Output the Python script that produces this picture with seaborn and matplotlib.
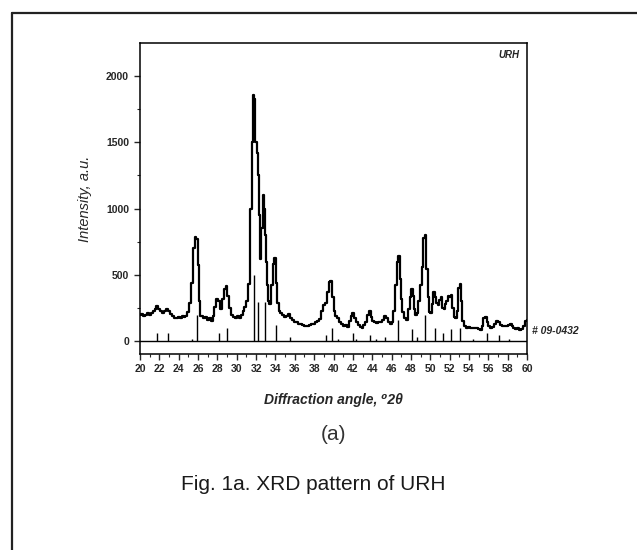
import matplotlib
matplotlib.use("Agg")
import matplotlib.pyplot as plt
import seaborn as sns
import pandas as pd
from matplotlib.ticker import MultipleLocator
from matplotlib.lines import Line2D

two_theta = [20.0, 20.2, 20.4, 20.6, 20.8, 21.0, 21.2, 21.4, 21.6, 21.8, 22.0, 22.2, 22.4, 22.6, 22.8,
             23.0, 23.2, 23.4, 23.6, 23.8, 24.0, 24.2, 24.4, 24.6, 24.8, 25.0, 25.2, 25.4, 25.6, 25.75,
             25.9, 26.0, 26.1, 26.2, 26.4, 26.6, 26.8, 27.0, 27.2, 27.4, 27.6, 27.8, 28.0, 28.2, 28.4,
             28.6, 28.8, 28.9, 29.1, 29.3, 29.5, 29.7, 29.9, 30.1, 30.3, 30.5, 30.7, 30.9, 31.1, 31.3,
             31.5, 31.65, 31.75, 31.85, 32.0, 32.1, 32.25, 32.35, 32.45, 32.6, 32.75, 32.85, 32.95, 33.1, 33.2,
             33.3, 33.45, 33.6, 33.8, 33.95, 34.1, 34.25, 34.4, 34.6, 34.8, 35.0, 35.2, 35.4, 35.6, 35.8,
             36.0, 36.2, 36.4, 36.6, 36.8, 37.0, 37.2, 37.4, 37.6, 37.8, 38.0, 38.2, 38.4, 38.6, 38.8,
             39.0, 39.2, 39.4, 39.6, 39.75, 39.9, 40.1, 40.3, 40.5, 40.7, 40.9, 41.1, 41.3, 41.5, 41.7,
             41.9, 42.0, 42.2, 42.4, 42.6, 42.8, 43.0, 43.2, 43.4, 43.6, 43.75, 43.9, 44.1, 44.3, 44.5,
             44.7, 44.9, 45.1, 45.3, 45.5, 45.7, 45.9, 46.1, 46.3, 46.5, 46.65, 46.75, 46.9, 47.05, 47.2,
             47.4, 47.6, 47.8, 47.95, 48.1, 48.25, 48.4, 48.55, 48.7, 48.85, 49.0, 49.2, 49.35, 49.5, 49.65,
             49.8, 49.95, 50.1, 50.25, 50.4, 50.55, 50.7, 50.85, 51.0, 51.15, 51.3, 51.45, 51.6, 51.75, 51.9,
             52.05, 52.2, 52.35, 52.5, 52.65, 52.8, 52.95, 53.1, 53.25, 53.4, 53.6, 53.8, 54.0, 54.2, 54.4,
             54.6, 54.8, 55.0, 55.2, 55.4, 55.6, 55.75, 55.9, 56.1, 56.3, 56.5, 56.7, 56.9, 57.1, 57.3,
             57.5, 57.7, 57.9, 58.1, 58.3, 58.5, 58.7, 58.9, 59.1, 59.3, 59.5, 59.7, 59.9, 60.0]
intensity = [195, 205, 190, 200, 210, 200, 215, 230, 245, 265, 240, 225, 215, 230, 240,
             225, 205, 190, 175, 170, 180, 175, 185, 180, 190, 220, 290, 440, 700, 785,
             770, 570, 300, 190, 185, 175, 180, 160, 175, 150, 190, 260, 320, 300, 240,
             320, 390, 415, 340, 250, 200, 180, 170, 185, 175, 195, 230, 255, 300, 430,
             1000, 1500, 1860, 1830, 1500, 1420, 1250, 950, 620, 850, 1100, 1000, 800, 600, 420,
             300, 280, 420, 580, 630, 440, 290, 230, 210, 195, 180, 190, 205, 175, 160,
             145, 140, 130, 125, 120, 110, 115, 110, 120, 125, 130, 140, 150, 165, 230,
             270, 290, 370, 445, 450, 330, 230, 190, 175, 140, 130, 115, 120, 105, 150,
             185, 210, 175, 140, 120, 105, 100, 120, 140, 200, 225, 180, 150, 140, 135,
             145, 140, 160, 190, 170, 140, 130, 140, 230, 420, 600, 640, 470, 320, 220,
             170, 155, 240, 330, 390, 340, 240, 195, 210, 300, 420, 560, 780, 800, 540,
             330, 220, 215, 280, 370, 330, 290, 270, 310, 330, 250, 240, 280, 300, 340,
             335, 345, 250, 180, 175, 230, 400, 430, 300, 150, 110, 100, 105, 100, 95,
             100, 95, 90, 85, 110, 170, 180, 140, 110, 100, 105, 130, 150, 140, 120,
             110, 115, 110, 120, 125, 110, 100, 90, 95, 85, 90, 110, 150, 160]

# reference card # 09-0432 stick positions and heights
ref_pos = [21.8, 22.9, 25.4, 25.9, 28.15, 28.95, 31.8, 32.2, 32.9, 34.05, 35.5, 39.2, 39.8,
           40.45, 42.0, 42.3, 43.8, 44.4, 45.3, 46.7, 48.1, 48.6, 49.5, 50.5, 51.3, 52.1,
           53.1, 54.4, 55.9, 57.1, 58.1]
ref_int = [60, 60, 15, 200, 60, 100, 500, 295, 295, 120, 30, 45, 100,
           15, 60, 15, 45, 15, 30, 160, 90, 30, 195, 100, 60, 90,
           100, 15, 60, 45, 15]

df = pd.DataFrame({"two_theta": two_theta, "intensity": intensity})

sns.set_style("ticks")
plt.rcParams["font.family"] = ["Liberation Sans", "DejaVu Sans"]

fig = plt.figure(figsize=(6.37, 5.5), dpi=100)
ax = fig.add_axes([140 / 637, 1 - 354 / 550, 387 / 637, 311 / 550])

sns.lineplot(data=df, x="two_theta", y="intensity", ax=ax, color="black", lw=1.6,
             drawstyle="steps-mid", estimator=None)
ax.vlines(ref_pos, 0, ref_int, color="black", lw=1.0)
ax.axhline(0, color="black", lw=1.0)

ax.set_xlim(20, 60)
ax.set_ylim(-98, 2249)
ax.set_xticks(range(20, 61, 2))
ax.xaxis.set_minor_locator(MultipleLocator(1))
ax.set_yticks([0, 500, 1000, 1500, 2000])
ax.yaxis.set_minor_locator(MultipleLocator(250))
ax.tick_params(axis="both", which="major", direction="out", length=4, width=1,
               labelsize=7.5, pad=3)
ax.tick_params(axis="y", which="major", pad=4)
ax.tick_params(axis="both", which="minor", direction="out", length=2, width=0.8)
for lab in ax.get_xticklabels() + ax.get_yticklabels():
    lab.set_fontweight("bold")
for sp in ax.spines.values():
    sp.set_visible(True)
    sp.set_linewidth(1.1)
    sp.set_color("black")

ax.set_xlabel("Diffraction angle, \u20702\u03b8", fontsize=10, fontweight="bold",
              fontstyle="italic", labelpad=14)
ax.set_ylabel("Intensity, a.u.", fontsize=10.5, fontstyle="italic", labelpad=10)

ax.text(57.0, 2196, "URH", fontsize=7, fontweight="bold", fontstyle="italic", va="top")
ax.text(60.5, 75, "# 09-0432", fontsize=7.5, fontweight="bold", fontstyle="italic",
        va="center", clip_on=False)

fig.text(333 / 637, 1 - 434 / 550, "(a)", fontsize=15, color="#333333", ha="center", va="center")
fig.text(313 / 637, 1 - 485 / 550, "Fig. 1a. XRD pattern of URH", fontsize=15,
         color="#1a1a1a", ha="center", va="center")

# outer frame (left and top edges visible in the scan)
fig.add_artist(Line2D([12 / 637, 12 / 637], [0, 1 - 13 / 550], transform=fig.transFigure,
                      color="#222222", lw=1.6))
fig.add_artist(Line2D([12 / 637, 1], [1 - 13 / 550, 1 - 13 / 550], transform=fig.transFigure,
                      color="#222222", lw=1.6))

fig.savefig("out.png", dpi=100)
